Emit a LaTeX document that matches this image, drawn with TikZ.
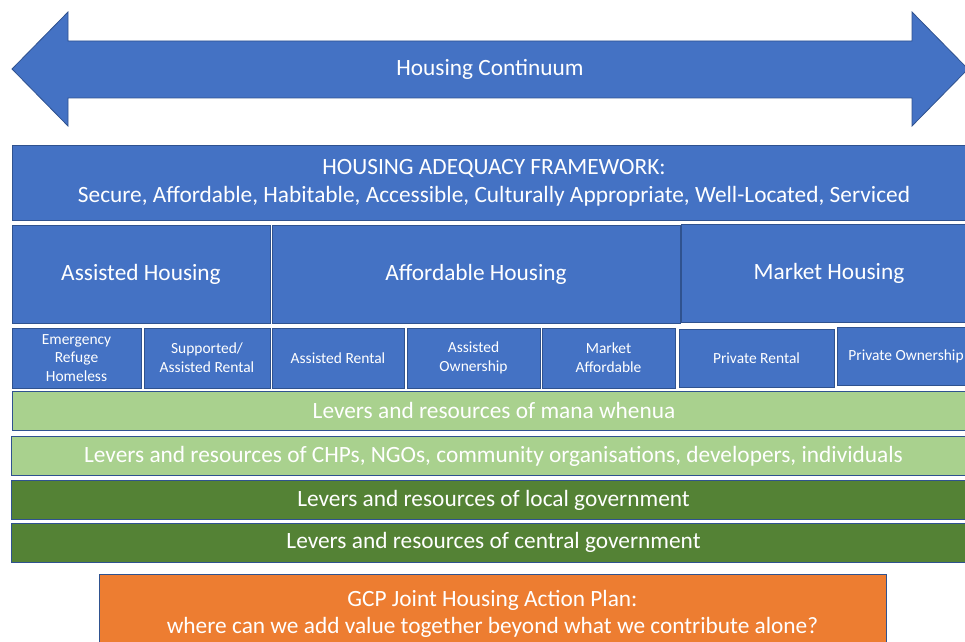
\documentclass[tikz,border=0pt]{standalone}
\usepackage{fontspec}
\setmainfont{Carlito}
\definecolor{hblue}{HTML}{4472C4}
\definecolor{hedge}{HTML}{2F528F}
\definecolor{hlight}{HTML}{A9D18E}
\definecolor{hdark}{HTML}{548235}
\definecolor{horange}{HTML}{ED7D31}
\def\px{0.75pt}

\begin{document}
\begin{tikzpicture}[x=0.75pt, y=-0.75pt,
    box/.style={draw=hedge, line width=0.6pt, fill=hblue, text=white, inner sep=0pt,
      align=center, font=\fontsize{17.5}{21}\selectfont},
    small/.style={box, font=\fontsize{11.6}{14}\selectfont},
    lever/.style={box, fill=hlight, minimum height=39*\px},
    gov/.style={box, fill=hdark, minimum height=39*\px},
    plan/.style={box, fill=horange, font=\fontsize{17.5}{20.5}\selectfont}]
      \useasboundingbox (0,0) rectangle (965,642);
      \draw[draw=hedge, fill=hblue, line width=0.6pt] (12,69) -- (68,12) -- (68,41) -- (912,41)
        -- (912,12) -- (968,69) -- (912,126) -- (912,98) -- (68,98) -- (68,126) -- cycle;
      \node[text=white, font=\fontsize{17.5}{21}\selectfont] (cont) at (490,69) {Housing Continuum};
      \node[box, minimum width=964*\px, minimum height=75*\px] (frame) at (494,182.5)
        {HOUSING ADEQUACY FRAMEWORK:\\Secure, Affordable, Habitable, Accessible, Culturally Appropriate, Well-Located, Serviced};
      \node[box, minimum width=258*\px, minimum height=98*\px] (assist) at (141,274) {Assisted Housing};
      \node[box, minimum width=408*\px, minimum height=98*\px] (afford) at (476,274) {Affordable Housing};
      \node[box, minimum width=296*\px, minimum height=98*\px] (market) at (829,273) {Market Housing};
      \node[small, minimum width=129*\px, minimum height=60*\px] (emerg) at (76.5,358) {Emergency\\Refuge\\Homeless};
      \node[small, minimum width=126*\px, minimum height=60*\px] (supp) at (207,358) {Supported/\\Assisted Rental};
      \node[small, minimum width=132*\px, minimum height=60*\px] (arent) at (338,358) {Assisted Rental};
      \node[small, minimum width=133*\px, minimum height=60*\px] (aown) at (473.5,358) {Assisted\\Ownership};
      \node[small, minimum width=133*\px, minimum height=60*\px] (maff) at (608.5,358) {Market\\Affordable};
      \node[small, minimum width=155*\px, minimum height=58*\px] (prent) at (756.5,358) {Private Rental};
      \node[small, minimum width=138*\px, minimum height=58*\px] (pown) at (906,356) {Private Ownership};
      \node[lever, minimum width=964*\px] (mana) at (494,410.5) {Levers and resources of mana whenua};
      \node[lever, minimum width=965*\px] (chp) at (493.5,456) {Levers and resources of CHPs, NGOs, community organisations, developers, individuals};
      \node[gov, minimum width=965*\px] (local) at (493.5,500) {Levers and resources of local government};
      \node[gov, minimum width=965*\px] (central) at (493.5,542.5) {Levers and resources of central government};
      \node[plan, minimum width=787*\px, minimum height=80*\px] (gcp) at (492.5,614)
        {GCP Joint Housing Action Plan:\\where can we add value together beyond what we contribute alone?};
    \end{tikzpicture}
\end{document}
